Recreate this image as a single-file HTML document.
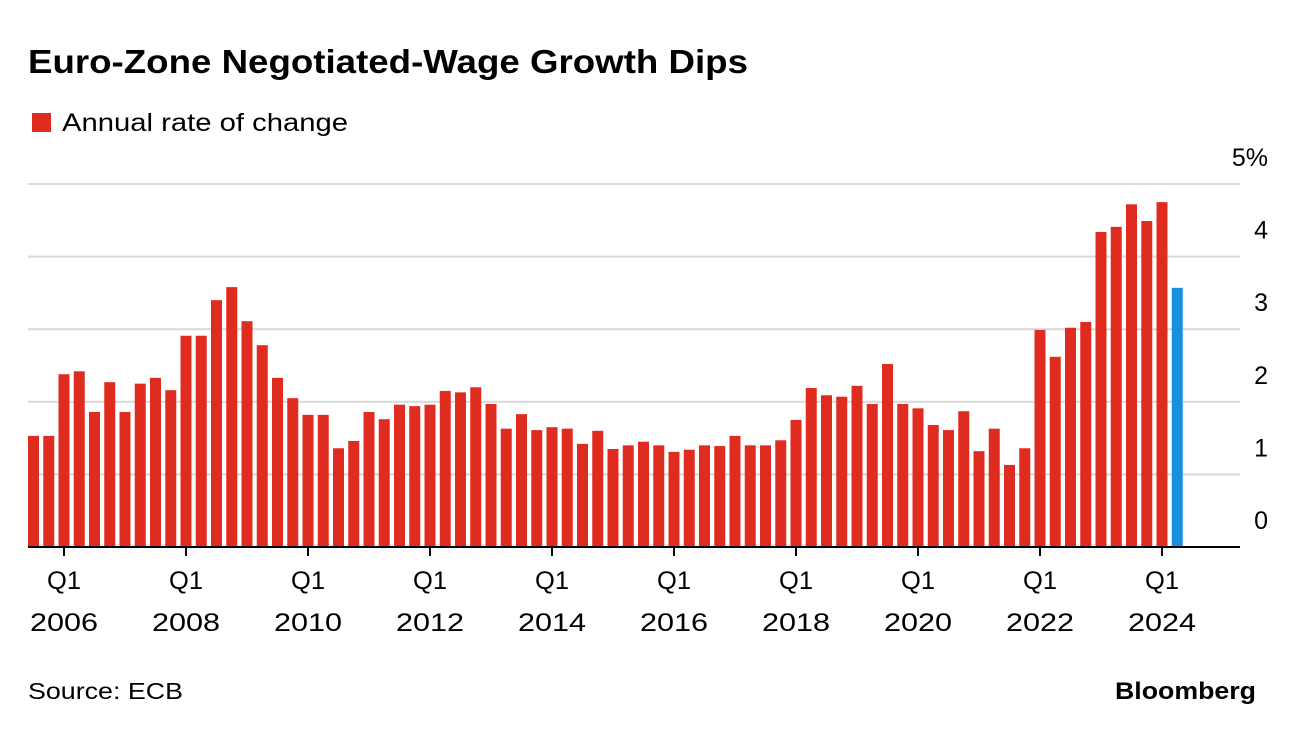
<!DOCTYPE html>
<html><head><meta charset="utf-8"><style>
body{margin:0;background:#fff;font-family:"Liberation Sans",sans-serif;}
svg text{font-family:"Liberation Sans",sans-serif;}
</style></head><body>
<svg id="chart" width="1296" height="732" xmlns="http://www.w3.org/2000/svg">
<text x="28" y="73" font-size="33" font-weight="bold" fill="#000" textLength="720" lengthAdjust="spacingAndGlyphs">Euro-Zone Negotiated-Wage Growth Dips</text>
<rect x="32" y="113" width="19" height="19" fill="#e02b20"/>
<text x="62" y="131" font-size="25" fill="#000" textLength="286" lengthAdjust="spacingAndGlyphs">Annual rate of change</text>
<g id="grid"></g><g id="bars"></g><g id="xaxis"></g>
<text x="28" y="699" font-size="23" fill="#000" textLength="155" lengthAdjust="spacingAndGlyphs">Source: ECB</text>
<text x="1115" y="699" font-size="24" font-weight="bold" fill="#000" textLength="141" lengthAdjust="spacingAndGlyphs">Bloomberg</text>
</svg>
<script>
const values=[1.53,1.53,2.38,2.42,1.86,2.27,1.86,2.25,2.33,2.16,2.91,2.91,3.40,3.58,3.11,2.78,2.33,2.05,1.82,1.82,1.36,1.46,1.86,1.76,1.96,1.94,1.96,2.15,2.13,2.20,1.97,1.63,1.83,1.61,1.65,1.63,1.42,1.60,1.35,1.40,1.45,1.40,1.31,1.34,1.40,1.39,1.53,1.40,1.40,1.47,1.75,2.19,2.09,2.07,2.22,1.97,2.52,1.97,1.91,1.68,1.61,1.87,1.32,1.63,1.13,1.36,2.99,2.62,3.02,3.10,4.34,4.41,4.72,4.49,4.75,3.57];
const yTicks=[0,1,2,3,4,5];
const yearLabels=["2006","2008","2010","2012","2014","2016","2018","2020","2022","2024"];
const NS="http://www.w3.org/2000/svg";
const y0=547,unit=72.6,x0=33.5,step=15.25,bw=11;
const yS=v=>y0-v*unit, xS=i=>x0+i*step;
function mk(t,a,p){const e=document.createElementNS(NS,t);for(const k in a)e.setAttribute(k,a[k]);p.appendChild(e);return e;}
const grid=document.getElementById('grid'),bars=document.getElementById('bars'),xa=document.getElementById('xaxis');
yTicks.forEach(v=>{
 if(v>0){const l=mk('line',{x1:28,x2:1240,y1:yS(v),y2:yS(v),stroke:'#d9d9d9','stroke-width':2},grid);
 
 }
 const t=mk('text',{x:1268,y:yS(v)-18,'font-size':25,'text-anchor':'end',fill:'#000'},grid);
 t.textContent=v===5?'5%':String(v);
 
 
});
values.forEach((v,i)=>{
 const r=mk('rect',{x:xS(i)-bw/2,y:yS(v),width:bw,height:v*unit,fill:i===values.length-1?'#1a8fe0':'#e02b20'},bars);
 
 
});
const base=mk('line',{x1:28,x2:1240,y1:y0,y2:y0,stroke:'#000','stroke-width':2},xa);


yearLabels.forEach((y,k)=>{
 const i=2+k*8,x=xS(i);
 const tk=mk('line',{x1:x,x2:x,y1:y0,y2:y0+9,stroke:'#000','stroke-width':2},xa);
 
 
 const q=mk('text',{x:x-17,y:589,'font-size':25,fill:'#000',textLength:34,lengthAdjust:'spacingAndGlyphs'},xa);q.textContent='Q1';
 
 
 const t=mk('text',{x:x-34,y:631,'font-size':25,fill:'#000',textLength:68,lengthAdjust:'spacingAndGlyphs'},xa);t.textContent=y;
 
 
});
</script>
</body></html>
